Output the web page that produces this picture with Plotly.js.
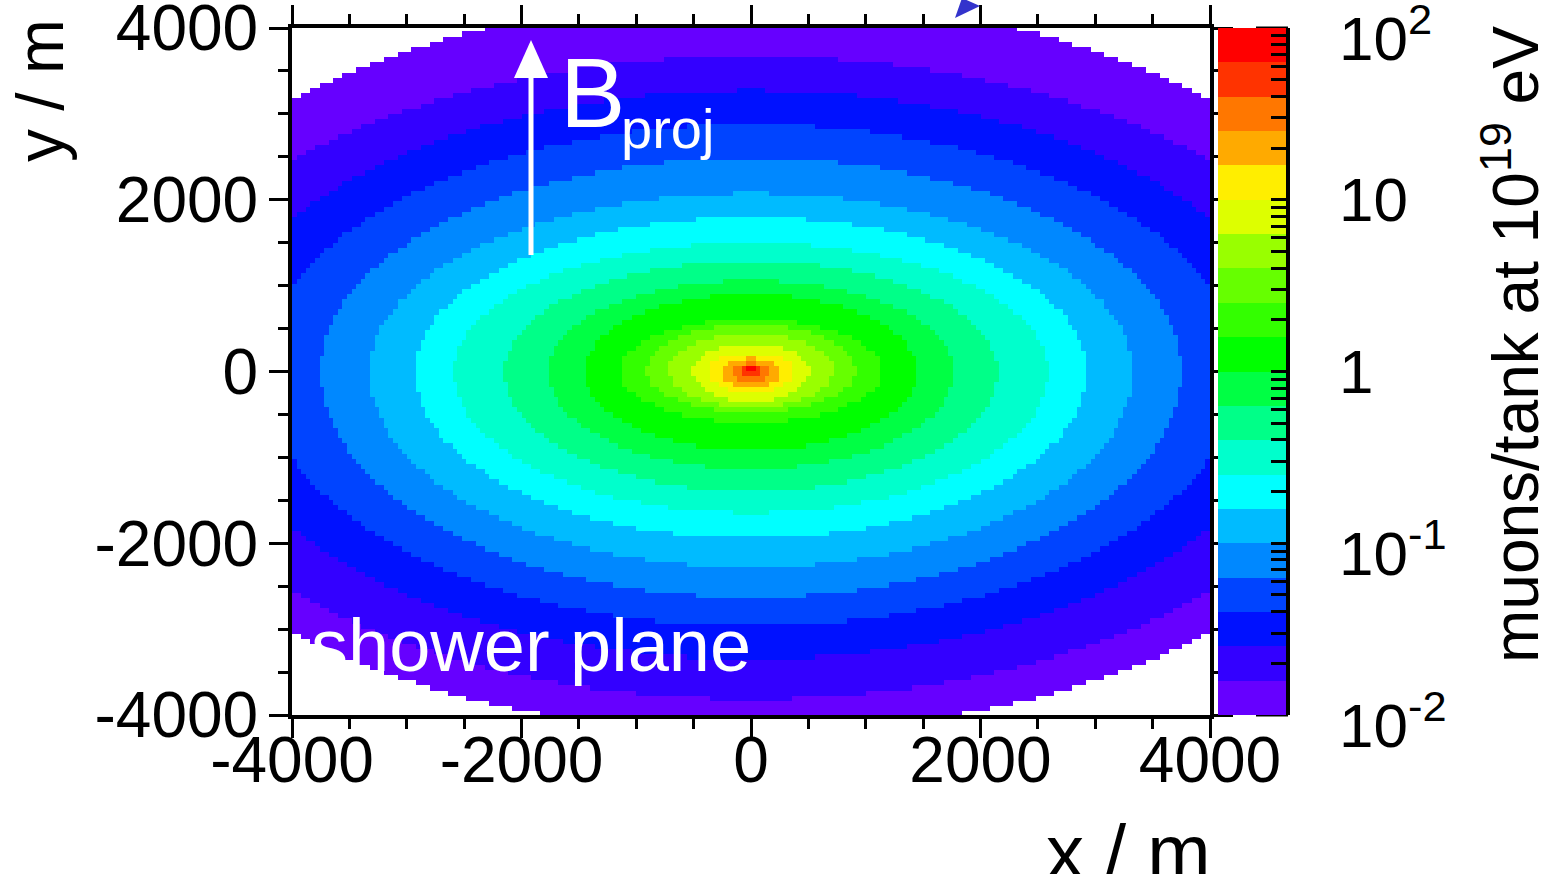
<!DOCTYPE html>
<html>
<head>
<meta charset="utf-8">
<script src="https://cdn.plot.ly/plotly-3.0.1.min.js"></script>
<style>
  html, body { margin: 0; padding: 0; background: #ffffff; }
  #chart { width: 1546px; height: 874px; }
</style>
</head>
<body>
<div id="chart"></div>
<script>
// Lower edge of each of the 20 colour bands, muons per tank at 10^19 eV
const levelValues = [0.01, 0.016, 0.025, 0.04, 0.063, 0.1, 0.16, 0.25, 0.4, 0.63,
                     1, 1.6, 2.5, 4, 6.3, 10, 16, 25, 40, 63];

// Band colours, lowest level first
const bandColors = ['#6600ff', '#3300ff', '#0011ff', '#0044ff', '#0088ff', '#00bbff',
                    '#00ffff', '#00ffcc', '#00ff88', '#00ff44', '#00ff00', '#33ff00',
                    '#66ff00', '#99ff00', '#ddff00', '#ffee00', '#ffaa00', '#ff7700',
                    '#ff3300', '#ff0000'];

// Half-extent (m) of each iso-density contour in the shower plane:
// along x, towards +y and towards -y
const contourHalfX = [5800, 5384, 4769, 4252, 3747, 3325, 2928, 2588, 2148, 1769,
                      1447, 1137, 906, 715, 505, 379, 253, 170, 83, 40];
const contourHalfYUp = [4360, 3667, 3271, 2875, 2480, 2072, 1793, 1502, 1281, 1059,
                        896, 605, 547, 442, 326, 210, 151, 93, 47, 40];
const contourHalfYDown = [4210, 3818, 3353, 2969, 2631, 2282, 1944, 1653, 1397, 1141,
                          920, 594, 477, 419, 361, 244, 186, 116, 58, 20];

// Axis ticks and colour-bar labels
const axisTicks = [-4000, -2000, 0, 2000, 4000];
const axisTickText = ['-4000', '-2000', '0', '2000', '4000'];
const barDecades = [0.01, 0.1, 1, 10, 100];
const barDecadeText = ['10<sup>-2</sup>', '10<sup>-1</sup>', '1', '10', '10<sup>2</sup>'];

// Histogram binning of the map (m)
const binX = 40, binY = 60;
const xCenters = [];
for (let x = -4000 + binX / 2; x < 4000; x += binX) xCenters.push(x);
const yCenters = [];
for (let y = -4020 + binY / 2; y < 4020; y += binY) yCenters.push(y);

// Each bin takes the band of the innermost contour that encloses it
const z = yCenters.map(function (y) {
  return xCenters.map(function (x) {
    let band = -1;
    for (let j = 0; j < levelValues.length; j++) {
      const a = contourHalfX[j];
      const b = y >= 0 ? contourHalfYUp[j] : contourHalfYDown[j];
      if ((x / a) * (x / a) + (y / b) * (y / b) <= 1) band = j;
    }
    return band < 0 ? null : Math.log10(levelValues[band]) + 0.1;
  });
});

const nBands = bandColors.length;
const colorscale = [];
bandColors.forEach(function (c, i) {
  colorscale.push([i / nBands, c]);
  colorscale.push([(i + 1) / nBands, c]);
});

// Colour-bar tick positions: every 1..9 x 10^n
const barTickVals = [];
for (let d = -2; d <= 1; d++) {
  for (let m = 1; m <= 9; m++) barTickVals.push(Math.log10(m) + d);
}
barTickVals.push(2);

// Page geometry helpers (plot area 292..1210 x 28..715 px)
const L = 292, R = 1210, T = 28, B = 715;
const W = 1546, H = 874;
function px(x) { return (x - L) / (R - L); }
function py(y) { return (B - y) / (B - T); }

const FONT = 'Liberation Sans, Arial, Helvetica, sans-serif';

const trace = {
  type: 'heatmap',
  x: xCenters,
  y: yCenters,
  z: z,
  zmin: -2,
  zmax: 2,
  zsmooth: false,
  colorscale: colorscale,
  hoverinfo: 'skip',
  colorbar: {
    x: px(1218), xanchor: 'left', xpad: 0,
    y: 0.5, yanchor: 'middle', ypad: 0,
    len: 1, lenmode: 'fraction',
    thickness: 68, thicknessmode: 'pixels',
    outlinewidth: 0, borderwidth: 0,
    tickmode: 'array', tickvals: barTickVals,
    ticks: 'inside', ticklen: 15, tickwidth: 3, tickcolor: '#000',
    showticklabels: false
  }
};

const annotations = [];
// colour-bar decade labels
barDecades.forEach(function (v, i) {
  const hasSup = barDecadeText[i].indexOf('<sup>') >= 0;
  annotations.push({
    xref: 'paper', yref: 'paper',
    x: px(1338), y: (Math.log10(v) + 2) / 4,
    xanchor: 'left', yanchor: 'middle',
    yshift: hasSup ? -6 : 0,
    text: barDecadeText[i], showarrow: false, borderpad: 0,
    font: { family: FONT, size: 62, color: '#000' }
  });
});
// colour-bar title
annotations.push({
  xref: 'paper', yref: 'paper', x: px(1511), y: py(345),
  xanchor: 'center', yanchor: 'middle', textangle: -90,
  text: 'muons/tank at 10<sup>19</sup> eV', showarrow: false, borderpad: 0,
  font: { family: FONT, size: 64, color: '#000' }
});
// axis titles
annotations.push({
  xref: 'paper', yref: 'paper', x: px(40), y: py(90),
  xanchor: 'center', yanchor: 'middle', textangle: -90,
  text: 'y / m', showarrow: false, borderpad: 0,
  font: { family: FONT, size: 66, color: '#000' }
});
annotations.push({
  xref: 'paper', yref: 'paper', x: px(1212), y: py(851),
  xanchor: 'right', yanchor: 'middle',
  text: 'x / m', showarrow: false, borderpad: 0,
  font: { family: FONT, size: 76, color: '#000' }
});
// magnetic field label
annotations.push({
  xref: 'paper', yref: 'paper', x: px(559), y: py(93),
  xanchor: 'left', yanchor: 'middle',
  text: 'B', showarrow: false, borderpad: 0,
  font: { family: FONT, size: 98, color: '#fff' }
});
annotations.push({
  xref: 'paper', yref: 'paper', x: px(620), y: py(128),
  xanchor: 'left', yanchor: 'middle',
  text: 'proj', showarrow: false, borderpad: 0,
  font: { family: FONT, size: 56, color: '#fff' }
});
annotations.push({
  xref: 'paper', yref: 'paper', x: px(310), y: py(645),
  xanchor: 'left', yanchor: 'middle',
  text: 'shower plane', showarrow: false, borderpad: 0,
  font: { family: FONT, size: 74, color: '#fff' }
});

const shapes = [
  // field arrow shaft and head
  { type: 'line', xref: 'paper', yref: 'paper',
    x0: px(531), x1: px(531), y0: py(255), y1: py(76),
    line: { color: '#fff', width: 5 } },
  { type: 'path', xref: 'paper', yref: 'paper',
    path: 'M' + px(531) + ',' + py(40) + ' L' + px(514) + ',' + py(78) +
          ' L' + px(548) + ',' + py(78) + ' Z',
    fillcolor: '#fff', line: { width: 0 } },
  // blue arrow tip at the top edge
  { type: 'path', xref: 'paper', yref: 'paper',
    path: 'M' + px(955) + ',' + py(18) + ' L' + px(962) + ',' + py(-2) +
          ' L' + px(980) + ',' + py(6) + ' Z',
    fillcolor: '#3333cc', line: { width: 0 } },
  // colour-bar axis line
  { type: 'line', xref: 'paper', yref: 'paper',
    x0: px(1288), x1: px(1288), y0: 0, y1: 1,
    line: { color: '#000', width: 4 } }
];
// long colour-bar ticks at each decade
barDecades.forEach(function (v) {
  const yy = (Math.log10(v) + 2) / 4;
  shapes.push({ type: 'line', xref: 'paper', yref: 'paper',
    x0: px(1256), x1: px(1288), y0: yy, y1: yy,
    line: { color: '#000', width: 3 } });
});

function axisStyle() {
  return {
    range: [-4000, 4000],
    tickmode: 'array', tickvals: axisTicks, ticktext: axisTickText,
    ticks: 'outside', ticklen: 19, tickwidth: 3, tickcolor: '#000',
    minor: { dtick: 500, tick0: 0, ticks: 'outside', ticklen: 10, tickwidth: 3,
             tickcolor: '#000', showgrid: false },
    showline: true, linewidth: 4, linecolor: '#000', mirror: 'ticks',
    showgrid: false, zeroline: false,
    ticklabeloverflow: 'allow',
    tickfont: { family: FONT, size: 64, color: '#000' },
    fixedrange: true
  };
}

const xaxis = axisStyle();
xaxis.ticklabelstandoff = -33;
const yaxis = axisStyle();
yaxis.ticklabelstandoff = -2;

const layout = {
  width: W, height: H,
  margin: { l: L, r: W - R, t: T, b: H - B, pad: 0 },
  paper_bgcolor: '#fff', plot_bgcolor: '#fff',
  font: { family: FONT, color: '#000' },
  showlegend: false,
  xaxis: xaxis, yaxis: yaxis,
  annotations: annotations,
  shapes: shapes
};

Plotly.newPlot('chart', [trace], layout, { staticPlot: true, displayModeBar: false });
</script>
</body>
</html>
